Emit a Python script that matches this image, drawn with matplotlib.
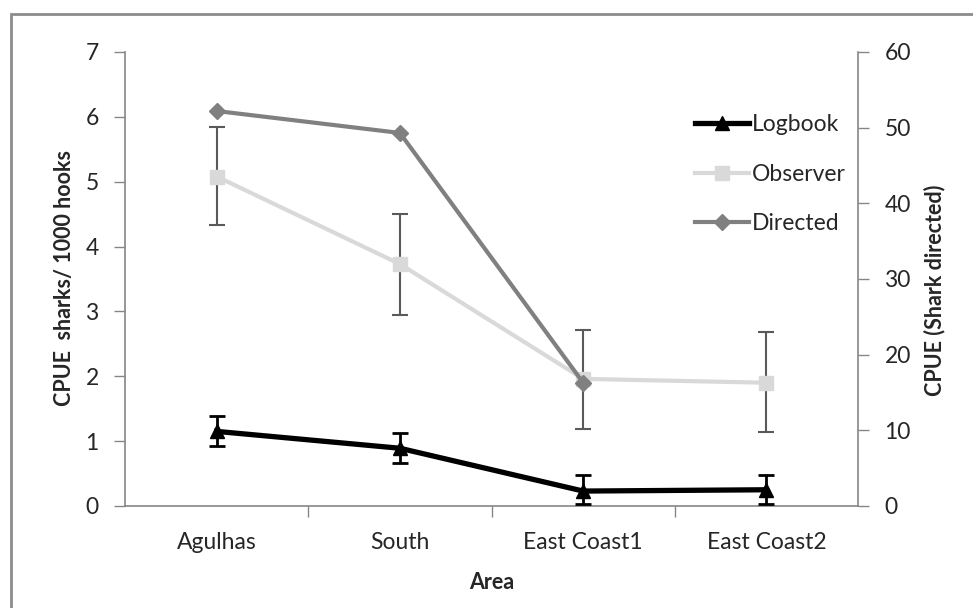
import matplotlib
matplotlib.use('Agg')

import matplotlib.pyplot as plt
from matplotlib.patches import Rectangle
import numpy as np

plt.rcParams['font.family'] = ['Lato', 'DejaVu Sans']

# CPUE by fishing area
areas = ['Agulhas', 'South', 'East Coast1', 'East Coast2']

logbook = [1.15, 0.89, 0.23, 0.25]
logbook_lo = [0.92, 0.66, 0.03, 0.03]
logbook_hi = [1.39, 1.12, 0.48, 0.48]

observer = [5.08, 3.73, 1.96, 1.90]
observer_lo = [4.33, 2.95, 1.19, 1.14]
observer_hi = [5.85, 4.50, 2.72, 2.68]

# shark directed fishery, right axis
directed = [52.2, 49.3, 16.3]

x = np.arange(len(areas))

W, H = 973, 608
fig = plt.figure(figsize=(W / 100, H / 100), dpi=100)
ax = fig.add_axes([0.1285, 0.1678, 0.7533, 0.7467])
ax2 = ax.twinx()

spine_col = '#868686'
text_col = '#262626'
tick_fs = 16.5
label_fs = 15.5

ax.errorbar(x, observer,
            yerr=[np.subtract(observer, observer_lo), np.subtract(observer_hi, observer)],
            fmt='none', ecolor='#5a5a5a', elinewidth=1.5, capsize=6, capthick=1.5, zorder=2)
ax.errorbar(x, logbook,
            yerr=[np.subtract(logbook, logbook_lo), np.subtract(logbook_hi, logbook)],
            fmt='none', ecolor='black', elinewidth=2, capsize=6, capthick=2, zorder=4)
l_obs, = ax.plot(x, observer, '-s', color='#d9d9d9', lw=3, ms=10, label='Observer', zorder=3)
l_log, = ax.plot(x, logbook, '-^', color='black', lw=3.8, ms=10, label='Logbook', zorder=5)
l_dir, = ax2.plot(x[:len(directed)], directed, '-D', color='#808080', lw=3, ms=8, label='Directed')

ax.set_xlim(-0.5, 3.5)
ax.set_ylim(0, 7)
ax2.set_ylim(0, 60)
ax.set_yticks(range(0, 8))
ax2.set_yticks(range(0, 61, 10))

ax.set_xticks(x)
ax.set_xticklabels(areas)
ax.set_xticks([0.5, 1.5, 2.5], minor=True)
ax.tick_params(axis='x', which='major', length=0, pad=19, labelsize=tick_fs, labelcolor=text_col)
ax.tick_params(axis='x', which='minor', length=8, width=1, color=spine_col, direction='out')
ax.tick_params(axis='y', length=8, width=1, color=spine_col, pad=11, labelsize=tick_fs, labelcolor=text_col)
ax2.tick_params(axis='y', length=8, width=1, color=spine_col, pad=11, labelsize=tick_fs, labelcolor=text_col)

for a in (ax, ax2):
    a.spines['top'].set_visible(False)
    for s in ('left', 'right', 'bottom'):
        a.spines[s].set_color(spine_col)
        a.spines[s].set_linewidth(1.2)
ax.spines['right'].set_visible(False)
ax2.spines['left'].set_visible(False)
ax2.spines['bottom'].set_visible(False)

# axis titles, placed in pixel terms
fig.text(64 / W, 1 - 278 / H, 'CPUE  sharks/ 1000 hooks', rotation=90,
         ha='center', va='center', fontsize=label_fs, fontweight='bold', color=text_col)
fig.text(935 / W, 1 - 290 / H, 'CPUE (Shark directed)', rotation=90,
         ha='center', va='center', fontsize=label_fs, fontweight='bold', color=text_col)
ax.set_xlabel('Area', fontsize=label_fs, fontweight='bold', color=text_col)
ax.xaxis.set_label_coords(0.5, -0.145)

leg = ax2.legend(handles=[l_log, l_obs, l_dir], loc='upper left',
                 bbox_to_anchor=(0.778, 0.864), frameon=False, fontsize=tick_fs,
                 handlelength=2.35, handletextpad=0.1, labelspacing=1.26,
                 borderaxespad=0, borderpad=0)
for t in leg.get_texts():
    t.set_color(text_col)

# chart frame
fig.patches.append(Rectangle((11 / W, -0.1), 1.1, (H - 14.5) / H + 0.1,
                             transform=fig.transFigure, fill=False,
                             edgecolor='#8c8c8c', linewidth=2))

fig.savefig('out.png', dpi=100)
